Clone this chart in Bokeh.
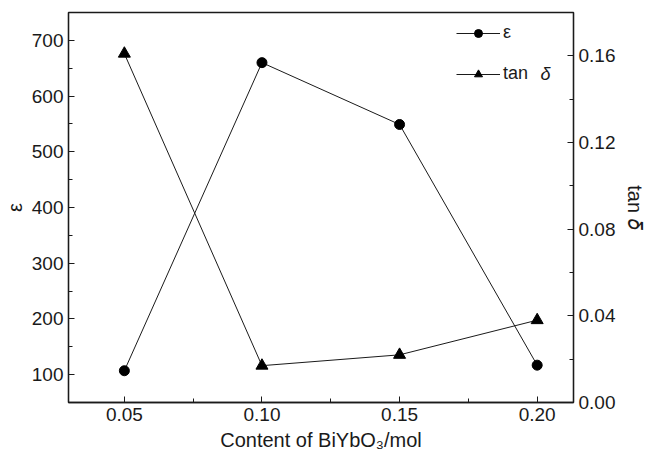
from bokeh.plotting import figure
from bokeh.models import (LinearAxis, Range1d, SingleIntervalTicker, Legend, LegendItem,
                          PrintfTickFormatter, Label)
from bokeh.embed import file_html
from bokeh.resources import INLINE

# BiYbO3 content (mol) and measured dielectric properties
content = [0.05, 0.10, 0.15, 0.20]
epsilon = [107, 660, 549, 117]
tan_delta = [0.161, 0.017, 0.022, 0.038]

FONT = "Liberation Sans"
INK = "#1a1a1a"

p = figure(width=664, height=457, output_backend="svg", toolbar_location=None,
           x_range=Range1d(0.0297, 0.2132), y_range=Range1d(50, 750),
           min_border_left=68, min_border_right=91, min_border_top=12, min_border_bottom=55)
p.extra_y_ranges = {"tan": Range1d(0, 0.18)}
p.grid.visible = False
p.outline_line_color = INK
p.outline_line_width = 1.3
p.background_fill_color = "white"
p.border_fill_color = "white"

def style_axis(ax, interval, fmt):
    ax.ticker = SingleIntervalTicker(interval=interval, num_minor_ticks=2)
    ax.formatter = PrintfTickFormatter(format=fmt)
    ax.major_tick_in = 6
    ax.major_tick_out = 0
    ax.minor_tick_in = 4
    ax.minor_tick_out = 0
    ax.axis_line_color = INK
    ax.axis_line_width = 1.3
    ax.major_tick_line_color = INK
    ax.minor_tick_line_color = INK
    ax.major_label_text_font = FONT
    ax.major_label_text_font_size = "19px"
    ax.major_label_text_color = INK
    ax.axis_label_text_font = FONT
    ax.axis_label_text_font_size = "20px"
    ax.axis_label_text_font_style = "normal"
    ax.axis_label_text_color = INK
    ax.major_label_standoff = 5

xa = p.xaxis[0]
style_axis(xa, 0.05, "%.2f")
xa.axis_label = "Content of BiYbO\u2083/mol"
xa.axis_label_standoff = 5

ya = p.yaxis[0]
style_axis(ya, 100, "%d")
ya.axis_label = "\u03b5"
ya.axis_label_standoff = 3

ra = LinearAxis(y_range_name="tan")
style_axis(ra, 0.04, "%.2f")
ra.axis_label = "tan \U0001D6FF"
ra.axis_label_standoff = 6
p.add_layout(ra, "right")

l1 = p.line(content, epsilon, line_color=INK, line_width=1)
s1 = p.scatter(content, epsilon, marker="circle", size=10, fill_color="black", line_color="black")
l2 = p.line(content, tan_delta, y_range_name="tan", line_color=INK, line_width=1)
s2 = p.scatter(content, tan_delta, y_range_name="tan", marker="triangle", size=12,
               fill_color="black", line_color="black")

legend = Legend(items=[LegendItem(label="\u03b5", renderers=[l1, s1]),
                       LegendItem(label="tan", renderers=[l2, s2])],
                location=(388, 318), orientation="vertical")
legend.border_line_color = None
legend.background_fill_alpha = 0
legend.glyph_width = 44
legend.glyph_height = 20
legend.spacing = 20
legend.padding = 0
legend.margin = 0
legend.label_standoff = 3
legend.label_text_font = FONT
legend.label_text_font_size = "18px"
legend.label_text_color = INK
p.add_layout(legend, "center")

# italic delta after the legend's "tan"
p.add_layout(Label(x=472, y=329, x_units="screen", y_units="screen", text="\u03b4",
                   text_font=FONT, text_font_size="18px", text_font_style="italic",
                   text_color=INK, text_align="left", text_baseline="middle"))

open("out.html", "w").write(file_html(p, INLINE))
